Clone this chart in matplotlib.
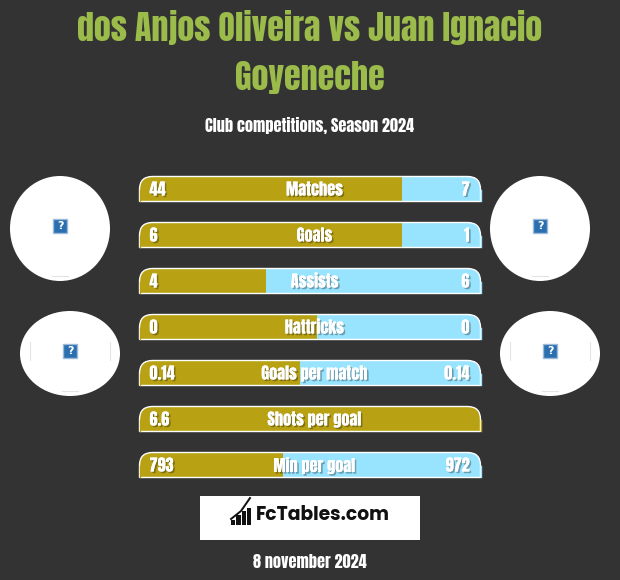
import matplotlib
matplotlib.use("Agg")
import matplotlib.pyplot as plt
import matplotlib.patheffects as pe
from matplotlib.patches import Ellipse, PathPatch, Rectangle
from matplotlib.path import Path

# values as shown in the picture
stats = ["Matches", "Goals", "Assists", "Hattricks", "Goals per match", "Shots per goal", "Min per goal"]
left_vals = ["44", "6", "4", "0", "0.14", "6.6", "793"]
right_vals = ["7", "1", "6", "0", "0.14", "", "972"]
# share of the bar taken by the left colour
left_share = [0.77, 0.77, 0.37, 0.52, 0.47, 1.0, 0.42]

title = "dos Anjos Oliveira vs Juan Ignacio\nGoyeneche"
subtitle = "Club competitions, Season 2024"
date_text = "8 november 2024"
logo_text = "FcTables.com"
logo_bars = [5, 10, 14, 17]

BG = "#333333"
GOLD = "#b8a214"
BLUE = "#98e4ff"
GREEN = "#9bbb4a"
FONT = ["Anton", "Liberation Sans", "DejaVu Sans"]

BAR_X = 139.5
BAR_W = 341
BAR_H = 25
BAR_TOP = 176.5
BAR_STEP = 46
R = 13


def top_round(x, y, w, h, r):
    verts = [(x, y + h), (x, y + r), (x, y), (x + r, y), (x + w - r, y),
             (x + w, y), (x + w, y + r), (x + w, y + h), (x, y + h)]
    codes = [Path.MOVETO, Path.LINETO, Path.CURVE3, Path.CURVE3, Path.LINETO,
             Path.CURVE3, Path.CURVE3, Path.LINETO, Path.CLOSEPOLY]
    return Path(verts, codes)


def shadow_text(x, y, s, size, ha="center"):
    t = ax.text(x, y, s, color="white", fontsize=size, ha=ha, va="center",
                family=FONT, zorder=6)
    t.set_path_effects([pe.withSimplePatchShadow(offset=(1.2, -1.2), shadow_rgbFace="black", alpha=0.3),
                        pe.Normal()])
    return t


fig = plt.figure(figsize=(6.2, 5.8), dpi=100, facecolor=BG)
ax = fig.add_axes([0, 0, 1, 1])
ax.set_xlim(0, 620)
ax.set_ylim(580, 0)
ax.axis("off")

ax.text(310, 52, title, color=GREEN, fontsize=24.5, family=FONT,
        ha="center", va="center", linespacing=1.55)
ax.text(309.5, 125, subtitle, color="white", fontsize=11.7, family=FONT,
        ha="center", va="center")

for i, stat in enumerate(stats):
    y = BAR_TOP + i * BAR_STEP
    shape = top_round(BAR_X, y, BAR_W, BAR_H, R)
    clip = PathPatch(shape, transform=ax.transData, fc="none", ec="none")
    ax.add_patch(clip)
    w_left = BAR_W * left_share[i]
    b1 = ax.barh(y + BAR_H / 2, w_left, BAR_H, left=BAR_X, color=GOLD, zorder=2)
    b2 = ax.barh(y + BAR_H / 2, BAR_W - w_left, BAR_H, left=BAR_X + w_left, color=BLUE, zorder=2)
    for b in list(b1) + list(b2):
        b.set_clip_path(clip)
    ax.add_patch(PathPatch(shape, fc="none", ec="white", lw=1, zorder=3))
    # mask the side edge of the outline below the corners
    ax.plot([BAR_X, BAR_X], [y + R, y + BAR_H - 1], color=GOLD, lw=1, zorder=4)
    side = GOLD if left_share[i] == 1.0 else BLUE
    ax.plot([BAR_X + BAR_W, BAR_X + BAR_W], [y + R, y + BAR_H - 1], color=side, lw=1, zorder=4)

    shadow_text(314.5, y + 13, stat, 11.7)
    shadow_text(BAR_X + 10, y + 13, left_vals[i], 11.7, ha="left")
    if right_vals[i]:
        shadow_text(BAR_X + BAR_W - 11, y + 13, right_vals[i], 11.7, ha="right")

# player and club placeholders
for cx, cy, rx, ry in [(60, 228.5, 50, 52.5), (540, 228.5, 50, 52.5), (70, 353.5, 50, 42.5), (550, 353.5, 50, 42.5)]:
    ax.add_patch(Ellipse((cx, cy), rx * 2, ry * 2, fc="white", ec="none", zorder=2))
    iy = cy - 2.5
    ax.add_patch(Rectangle((cx - 7, iy - 7), 14, 14, fc="#2a6fb0", ec="#9dbbd8", lw=1, zorder=3))
    ax.text(cx, iy, "?", color="white", fontsize=8, weight="bold", ha="center", va="center", zorder=4)
    ax.plot([cx - 8, cx + 8], [cy + ry - 5, cy + ry - 5], color="#e4e4e4", lw=0.8, zorder=3)
    if ry < 50:
        ax.plot([cx - 40, cx - 40], [iy - 9, iy + 9], color="#e4e4e4", lw=0.8, zorder=3)
        ax.plot([cx + 40, cx + 40], [iy - 9, iy + 9], color="#e4e4e4", lw=0.8, zorder=3)

# logo
ax.add_patch(Rectangle((200, 496), 220, 44, fc="white", ec="none", zorder=2))
for i, h in enumerate(logo_bars):
    ax.bar(233 + i * 5.4, h, 4.4, bottom=524.5 - h, color="#111111", zorder=3)
ax.plot([231, 241, 250], [519, 511, 498], color="#111111", lw=1.4, zorder=3)
ax.text(323, 515, logo_text, color="#111111", fontsize=13.5, weight="bold", family=["Poppins", "Open Sans", "DejaVu Sans"],
        ha="center", va="center", zorder=3)

ax.text(309.5, 562, date_text, color="white", fontsize=11.7, family=FONT,
        ha="center", va="center")

fig.savefig("out.png", dpi=100, facecolor=BG)
